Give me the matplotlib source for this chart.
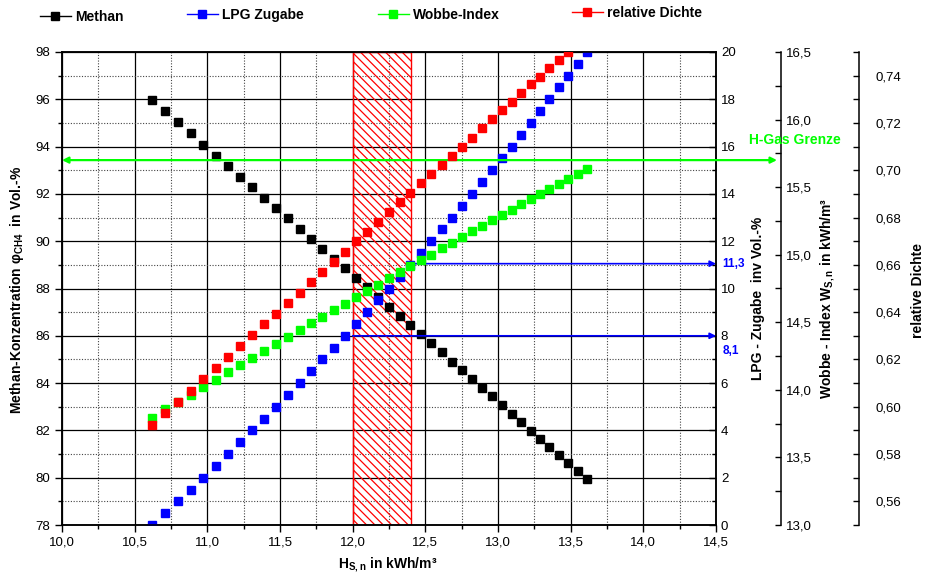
import matplotlib
matplotlib.use("Agg")
import matplotlib.pyplot as plt
from matplotlib.lines import Line2D
from matplotlib.ticker import MultipleLocator, FuncFormatter

plt.rcParams['font.family'] = ['Liberation Sans', 'DejaVu Sans']
plt.rcParams['hatch.linewidth'] = 0.9

# Daten
hs = [10.617, 10.707, 10.796, 10.886, 10.970, 11.058, 11.140, 11.225, 11.309, 11.390,
      11.473, 11.555, 11.636, 11.713, 11.791, 11.870, 11.947, 12.023, 12.097, 12.174,
      12.250, 12.324, 12.395, 12.470, 12.539, 12.613, 12.681, 12.752, 12.821, 12.890,
      12.959, 13.028, 13.094, 13.158, 13.225, 13.289, 13.353, 13.420, 13.484, 13.548,
      13.612]
methan = [95.96, 95.49, 95.03, 94.56, 94.07, 93.62, 93.17, 92.71, 92.28, 91.81,
          91.39, 90.97, 90.52, 90.09, 89.66, 89.25, 88.85, 88.43, 88.06, 87.65,
          87.22, 86.84, 86.44, 86.08, 85.68, 85.30, 84.91, 84.54, 84.16, 83.79,
          83.44, 83.06, 82.69, 82.34, 81.99, 81.64, 81.28, 80.95, 80.61, 80.27,
          79.93]
lpg = [0.0, 0.5, 1.0, 1.5, 2.0, 2.5, 3.0, 3.5, 4.0, 4.5,
       5.0, 5.5, 6.0, 6.5, 7.0, 7.5, 8.0, 8.5, 9.0, 9.5,
       10.0, 10.5, 11.0, 11.5, 12.0, 12.5, 13.0, 13.5, 14.0, 14.5,
       15.0, 15.5, 16.0, 16.5, 17.0, 17.5, 18.0, 18.5, 19.0, 19.5,
       20.0]
wobbe = [13.793, 13.856, 13.908, 13.964, 14.021, 14.075, 14.132, 14.184, 14.236, 14.290,
         14.342, 14.394, 14.443, 14.492, 14.542, 14.592, 14.638, 14.685, 14.735, 14.777,
         14.826, 14.870, 14.918, 14.962, 15.001, 15.046, 15.090, 15.130, 15.172, 15.211,
         15.254, 15.293, 15.333, 15.372, 15.411, 15.449, 15.486, 15.526, 15.563, 15.600,
         15.637]
# die letzten Punkte liegen oberhalb des Diagramms
dichte = [0.5922, 0.5973, 0.6019, 0.6067, 0.6118, 0.6165, 0.6211, 0.6258, 0.6304, 0.6349,
          0.6394, 0.6440, 0.6483, 0.6527, 0.6571, 0.6614, 0.6656, 0.6699, 0.6740, 0.6783,
          0.6824, 0.6864, 0.6905, 0.6944, 0.6983, 0.7023, 0.7062, 0.7100, 0.7138, 0.7177,
          0.7215, 0.7253, 0.7289, 0.7326, 0.7363, 0.7396, 0.7433, 0.7468, 0.7499]

bereich = [12.0, 12.4]          # schraffierter Bereich
lpg_pfeil_start = [12.0, 12.4]
lpg_pfeil_y = [8.0, 11.05]
lpg_pfeil_text = ["8,1", "11,3"]
h_gas_grenze = 15.7

W, H = 927, 577
fig = plt.figure(figsize=(W / 100, H / 100), dpi=100)
ax = fig.add_axes([62 / W, 1 - 525 / H, (716 - 62) / W, (525 - 52) / H])
ax2 = ax.twinx()
ax3 = ax.twinx()
ax4 = ax.twinx()

ms = 5.8
fs = 9.5
bold = dict(weight='bold', size=10)

def komma(nk):
    return FuncFormatter(lambda v, p: f"{v:.{nk}f}".replace('.', ','))

# Hauptachse: Methan
ax.plot(hs, methan, 's', color='black', ms=ms, zorder=3)
ax.set_xlim(10.0, 14.5)
ax.set_ylim(78, 98)
ax.xaxis.set_major_locator(MultipleLocator(0.5))
ax.xaxis.set_minor_locator(MultipleLocator(0.25))
ax.yaxis.set_major_locator(MultipleLocator(2))
ax.yaxis.set_minor_locator(MultipleLocator(1))
ax.xaxis.set_major_formatter(komma(1))
ax.yaxis.set_major_formatter(komma(0))
ax.grid(which='major', color='black', lw=0.9)
ax.grid(which='minor', color='#444444', lw=0.8, ls=(0, (1, 1.5)))
ax.set_axisbelow(True)
ax.tick_params(which='both', direction='out', labelsize=fs, width=1)
ax.tick_params(which='major', length=5)
ax.tick_params(which='minor', length=3)
for s in ax.spines.values():
    s.set_linewidth(1.1)

ax.axvspan(bereich[0], bereich[1], facecolor='none', edgecolor='red',
           hatch='\\\\\\\\', lw=1, zorder=1)

# LPG
ax2.plot(hs, lpg, 's', color='blue', ms=ms)
ax2.set_ylim(0, 20)
ax2.yaxis.set_major_locator(MultipleLocator(2))
ax2.yaxis.set_minor_locator(MultipleLocator(1))
ax2.yaxis.set_major_formatter(komma(0))
ax2.tick_params(which='both', direction='in', labelsize=fs, width=1)
ax2.tick_params(which='major', length=5)
ax2.tick_params(which='minor', length=3)
for s in ax2.spines.values():
    s.set_linewidth(1.1)
for x0, y0, t in zip(lpg_pfeil_start, lpg_pfeil_y, lpg_pfeil_text):
    ax2.annotate('', xy=(14.5, y0), xytext=(x0, y0),
                 arrowprops=dict(arrowstyle='-|>', color='blue', lw=1.2,
                                 shrinkA=0, shrinkB=0, mutation_scale=9))
    ax2.text(1.01, y0 - 0.65 if t == "8,1" else y0, t, color='blue', weight='bold',
             size=8.5, va='center', ha='left', transform=ax2.get_yaxis_transform())

# Wobbe-Index
ax3.plot(hs, wobbe, 's', color='#00ff00', ms=ms)
ax3.set_ylim(13.0, 16.5)
ax3.spines['right'].set_position(('axes', (781 - 62) / 654))
for k in ['top', 'left', 'bottom']:
    ax3.spines[k].set_visible(False)
ax3.spines['right'].set_linewidth(1.1)
ax3.yaxis.set_major_locator(MultipleLocator(0.5))
ax3.yaxis.set_minor_locator(MultipleLocator(0.25))
ax3.yaxis.set_major_formatter(komma(1))
ax3.tick_params(which='both', direction='in', labelsize=fs, width=1, length=4)
ax3.annotate('', xy=((777 - 62) / 654, h_gas_grenze), xytext=(0.0, h_gas_grenze),
             xycoords=ax3.get_yaxis_transform(), textcoords=ax3.get_yaxis_transform(),
             arrowprops=dict(arrowstyle='<|-|>', color='#00ff00', lw=1.6,
                             shrinkA=0, shrinkB=0, mutation_scale=9),
             annotation_clip=False)
ax3.text((795 - 62) / 654, 15.85, 'H-Gas Grenze', color='#00ff00', weight='bold',
         size=10, ha='center', va='center', transform=ax3.get_yaxis_transform())

# relative Dichte
ax4.plot(hs[:len(dichte)], dichte, 's', color='red', ms=ms)
ax4.set_ylim(0.55, 0.75)
ax4.spines['right'].set_position(('axes', (859 - 62) / 654))
for k in ['top', 'left', 'bottom']:
    ax4.spines[k].set_visible(False)
ax4.spines['right'].set_linewidth(1.1)
ax4.yaxis.set_major_locator(MultipleLocator(0.02))
ax4.yaxis.set_minor_locator(MultipleLocator(0.01))
ax4.yaxis.set_major_formatter(komma(2))
ax4.tick_params(which='both', direction='in', labelsize=fs, width=1, length=4, pad=12)

# Achsentitel
fig.text(17 / W, 1 - 290 / H, 'Methan-Konzentration φ$_{\\mathregular{CH4}}$  in Vol.-%',
         rotation=90, ha='center', va='center', **bold)
fig.text(758 / W, 1 - 298 / H, 'LPG - Zugabe  inv Vol.-%',
         rotation=90, ha='center', va='center', **bold)
fig.text(828 / W, 1 - 298 / H, 'Wobbe - Index W$_{\\mathregular{S,n}}$ in kWh/m³',
         rotation=90, ha='center', va='center', **bold)
fig.text(918 / W, 1 - 290 / H, 'relative Dichte',
         rotation=90, ha='center', va='center', **bold)
fig.text(388 / W, 1 - 565 / H, 'H$_{\\mathregular{S,n}}$ in kWh/m³',
         ha='center', va='center', **bold)

# Legende
eintraege = [('Methan', 'black', 40, 17), ('LPG Zugabe', 'blue', 187, 15),
             ('Wobbe-Index', '#00ff00', 378, 15), ('relative Dichte', 'red', 572, 13)]
for name, c, px, py in eintraege:
    h = Line2D([], [], color=c, marker='s', ms=6, lw=1)
    fig.legend(handles=[h], labels=[name], loc='center left',
               bbox_to_anchor=(px / W, 1 - py / H), frameon=False,
               prop=dict(weight='bold', size=10), handlelength=2.2,
               handletextpad=0.3, borderpad=0, borderaxespad=0)

fig.savefig('out.png', dpi=100)
